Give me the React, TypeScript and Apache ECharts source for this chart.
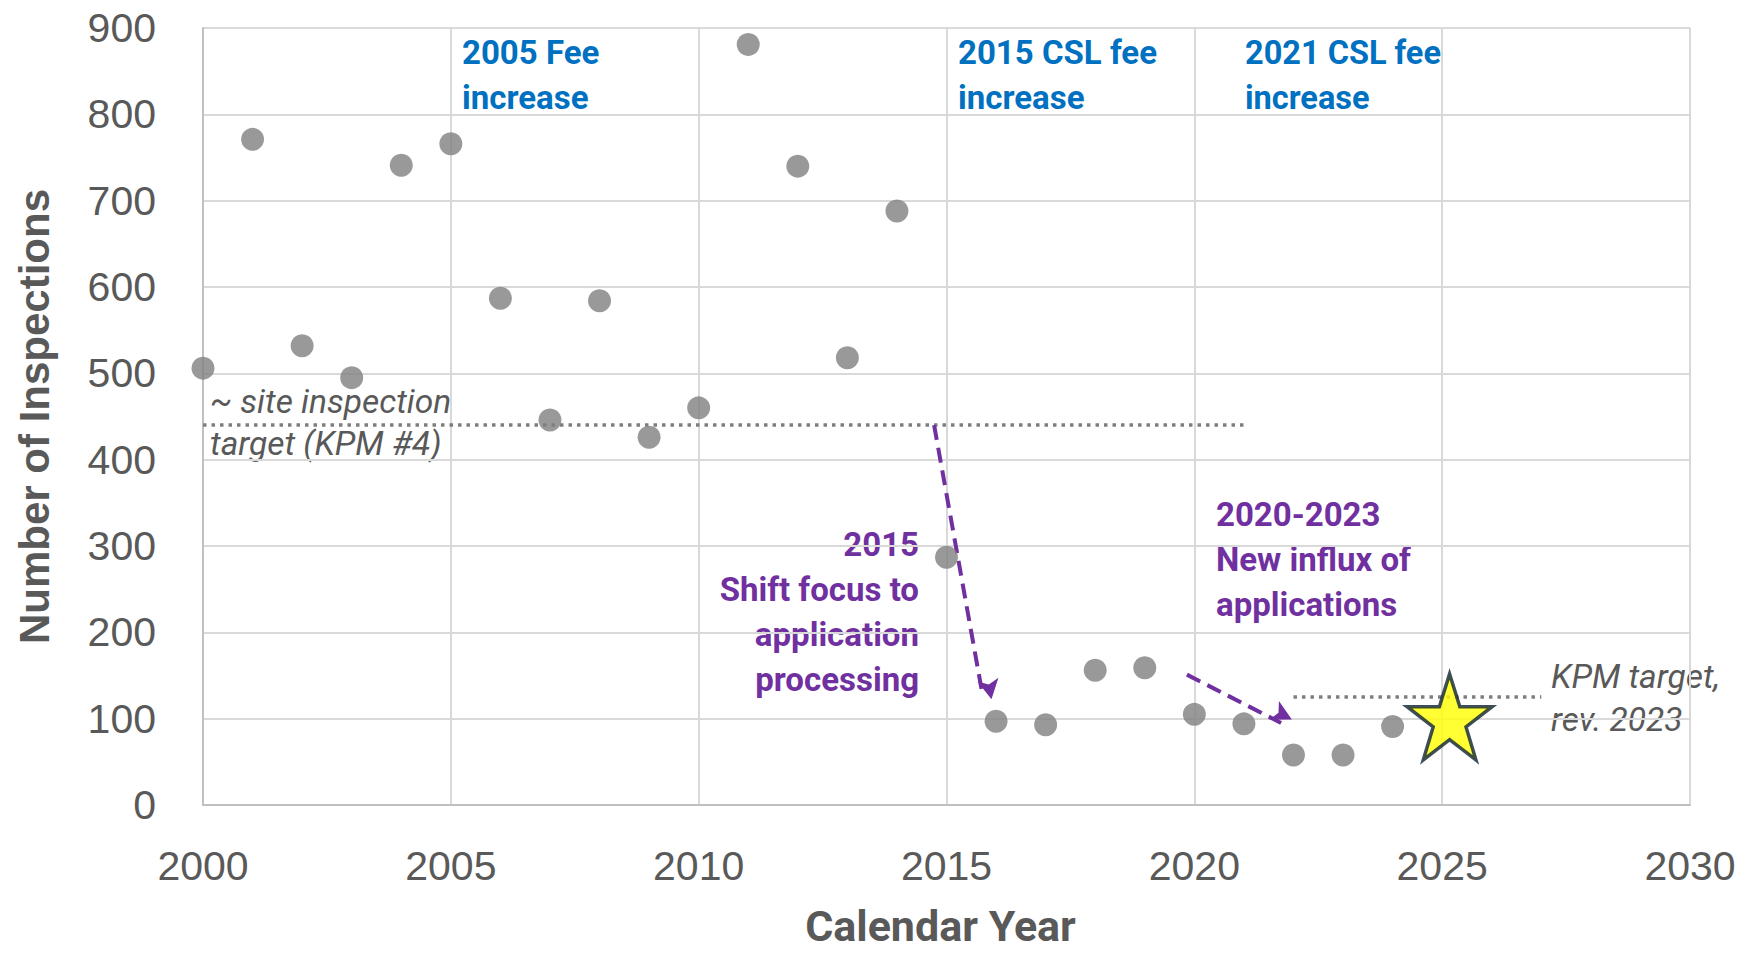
import React, { useEffect, useRef } from "react";
import * as echarts from "echarts";

// ---- Data ----
const years = [2000, 2001, 2002, 2003, 2004, 2005, 2006, 2007, 2008, 2009, 2010, 2011, 2012, 2013, 2014, 2015, 2016, 2017, 2018, 2019, 2020, 2021, 2022, 2023, 2024];
const inspections = [506, 771, 532, 495, 741, 766, 587, 446, 584, 426, 460, 881, 740, 518, 688, 287, 97, 93, 156, 159, 105, 94, 58, 58, 91];
const targetStar = [2025.15, 102];
const siteTargetLine = [[2000, 440], [2021, 440]];
const kpmTargetLine = [[2022, 125], [2027, 125]];
const shiftArrow = [[2014.75, 440], [2015.72, 130]];
const influxArrow = [[2019.85, 151], [2021.75, 95]];
const xTicks = { min: 2000, max: 2030, interval: 5 };
const yTicks = { min: 0, max: 900, interval: 100 };

const BLUE = "#0070C0";
const PURPLE = "#7030A0";
const GRAY_TEXT = "#595959";

const STAR_PATH =
  "path://M50,0 L61.8,35.3 L98.9,35.3 L68.9,57.1 L80.3,92.7 L50,70.9 L19.7,92.7 L31.1,57.1 L1.1,35.3 L38.2,35.3 Z";

function seg(p: number[][]) {
  return [{ coord: p[0] }, { coord: p[1] }];
}

export default function App() {
  const ref = useRef<HTMLDivElement>(null);
  useEffect(() => {
    if (!ref.current) return;
    const chart = echarts.init(ref.current, undefined, { renderer: "svg" });
    const boldBlue = {
      fill: BLUE,
      fontFamily: "Roboto",
      fontWeight: "bold",
      fontSize: 33,
      lineHeight: 45,
    };
    const boldPurple = { ...boldBlue, fill: PURPLE };
    const italicGray = {
      fill: GRAY_TEXT,
      fontFamily: "Roboto",
      fontStyle: "italic",
      fontSize: 33.5,
    };
    chart.setOption({
      animation: false,
      backgroundColor: "#ffffff",
      grid: {
        left: 203,
        right: 57,
        top: 28,
        bottom: 148,
        containLabel: false,
        outerBoundsMode: "none",
      },
      xAxis: {
        type: "value",
        min: xTicks.min,
        max: xTicks.max,
        interval: xTicks.interval,
        name: "Calendar Year",
        nameLocation: "middle",
        nameGap: 99,
        nameTextStyle: {
          fontFamily: "Roboto",
          fontWeight: "bold",
          fontSize: 43,
          color: GRAY_TEXT,
          padding: [0, 12, 0, 0],
        },
        axisLine: { show: true, lineStyle: { color: "#c0c0c0", width: 2 } },
        axisTick: { show: false },
        axisLabel: {
          fontFamily: "Liberation Sans",
          fontSize: 41,
          color: GRAY_TEXT,
          margin: 40,
          formatter: (v: number) => String(v),
        },
        splitLine: { show: true, lineStyle: { color: "#d9d9d9", width: 2 } },
      },
      yAxis: {
        type: "value",
        min: yTicks.min,
        max: yTicks.max,
        interval: yTicks.interval,
        name: "Number of Inspections",
        nameLocation: "middle",
        nameRotate: 90,
        nameGap: 148,
        nameTextStyle: {
          fontFamily: "Liberation Sans",
          fontWeight: "bold",
          fontSize: 42,
          color: GRAY_TEXT,
        },
        axisLine: { show: true, lineStyle: { color: "#c0c0c0", width: 2 } },
        axisTick: { show: false },
        axisLabel: {
          fontFamily: "Liberation Sans",
          fontSize: 41,
          color: GRAY_TEXT,
          margin: 47,
        },
        splitLine: { show: true, lineStyle: { color: "#d9d9d9", width: 2 } },
      },
      series: [
        {
          type: "scatter",
          name: "Inspections",
          data: years.map((y, i) => [y, inspections[i]]),
          symbol: "circle",
          symbolSize: 23,
          itemStyle: { color: "#7f7f7f" },
          z: 5,
          markLine: {
            silent: true,
            animation: false,
            label: { show: false },
            emphasis: { disabled: true },
            symbol: ["none", "none"],
            data: [seg(siteTargetLine), seg(kpmTargetLine)],
            lineStyle: { color: "#7f7f7f", type: [3.5, 5], width: 3.5 },
          },
        },
        {
          type: "scatter",
          name: "arrows",
          data: [],
          markLine: {
            silent: true,
            animation: false,
            label: { show: false },
            emphasis: { disabled: true },
            symbol: ["none", "arrow"],
            symbolSize: [16, 20],
            symbolOffset: [0, -8],
            data: [seg(shiftArrow), seg(influxArrow)],
            lineStyle: { color: PURPLE, type: [15, 8], width: 4, opacity: 1 },
            itemStyle: { color: PURPLE },
          },
        },
        {
          type: "scatter",
          name: "KPM target 2025",
          data: [targetStar],
          symbol: STAR_PATH,
          symbolSize: [85, 86],
          itemStyle: { color: "#ffff00", borderColor: "#0e2233", borderWidth: 3.5 },
          z: 6,
        },
      ],
      graphic: [
        { type: "text", left: 462, top: 30, style: { ...boldBlue, text: "2005 Fee\nincrease" } },
        { type: "text", left: 958, top: 30, style: { ...boldBlue, text: "2015 CSL fee\nincrease" } },
        { type: "text", left: 1245, top: 30, style: { ...boldBlue, fontSize: 32.5, text: "2021 CSL fee\nincrease" } },
        {
          type: "text",
          left: 210,
          top: 380,
          style: { ...italicGray, lineHeight: 42, text: "~ site inspection\ntarget (KPM #4)" },
        },
        {
          type: "text",
          right: 1747 - 919,
          top: 522,
          style: {
            ...boldPurple,
            textAlign: "right",
            text: "2015\nShift focus to\napplication\nprocessing",
          },
        },
        {
          type: "text",
          left: 1216,
          top: 492,
          style: { ...boldPurple, text: "2020-2023\nNew influx of\napplications" },
        },
        {
          type: "text",
          left: 1551,
          top: 655,
          style: { ...italicGray, lineHeight: 43, text: "KPM target,\nrev. 2023" },
        },
      ],
    });
    return () => chart.dispose();
  }, []);
  return (
    <div
      ref={ref}
      style={{ position: "fixed", left: 0, top: 0, width: 1747, height: 953, background: "#fff" }}
    />
  );
}
